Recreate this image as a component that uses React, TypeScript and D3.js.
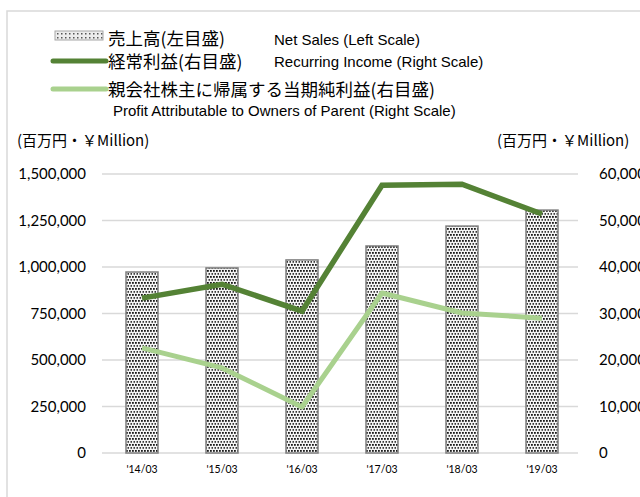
import React from "react";
import * as d3 from "d3";

const periods = ["'14/03", "'15/03", "'16/03", "'17/03", "'18/03", "'19/03"];
const netSales = [973000, 995000, 1038000, 1113000, 1220000, 1306000];
const recurringIncome = [33300, 36300, 30500, 57600, 57800, 51400];
const profitOwners = [22600, 18300, 9900, 34400, 30100, 29000];
const leftTicks = [0, 250000, 500000, 750000, 1000000, 1250000, 1500000];
const rightTicks = [0, 10000, 20000, 30000, 40000, 50000, 60000];

const W = 640,
  H = 497;
const plot = { left: 102, right: 582, top: 174, bottom: 453 };
const DARK = "#548235";
const LIGHT = "#a9d18e";
const JP = "'Noto Sans CJK JP', 'Liberation Sans', sans-serif";
const EN = "'Liberation Sans', Arial, sans-serif";
const NUM = "Lato, 'Open Sans', sans-serif";

export default function App() {
  const x = d3.scaleBand().domain(periods).range([plot.left, plot.right]).paddingInner(0.6).paddingOuter(0.3);
  const yL = d3.scaleLinear().domain([0, 1500000]).range([plot.bottom, plot.top]);
  const yR = d3.scaleLinear().domain([0, 60000]).range([plot.bottom, plot.top]);
  const fmt = d3.format(",");
  const cx = (i: number) => (x(periods[i]) as number) + x.bandwidth() / 2;

  const lineR = d3
    .line<number>()
    .x((_, i) => cx(i))
    .y((d) => yR(d));

  return (
    <div style={{ position: "fixed", left: 0, top: 0 }}>
      <svg width={W} height={H} style={{ display: "block", background: "#fff" }}>
        <defs>
          <pattern id="dots" width="3" height="6" patternUnits="userSpaceOnUse">
            <rect width="3" height="6" fill="#f4f4f4" />
            <rect x="0" y="0" width="1.8" height="1.8" fill="#1a1a1a" />
            <rect x="1.5" y="3" width="1.8" height="1.8" fill="#3a3a3a" />
          </pattern>
          <pattern id="dotsLegend" width="4" height="4" patternUnits="userSpaceOnUse">
            <rect width="4" height="4" fill="#ececec" />
            <rect x="1" y="1" width="1.5" height="1.5" fill="#555" />
          </pattern>
        </defs>

        {/* chart frame */}
        <path d={`M7,${H} V11 H${W}`} fill="none" stroke="#d9d9d9" strokeWidth={1.5} />

        {/* legend */}
        <rect x={55} y={31} width={48} height={9} fill="url(#dotsLegend)" stroke="#a6a6a6" strokeWidth={1} />
        <text x={108} y={45} fontFamily={JP} fontSize={17.5} fill="#000">
          売上高(左目盛)
        </text>
        <text x={274} y={45} fontFamily={EN} fontSize={15} fill="#000">
          Net Sales (Left Scale)
        </text>
        <line x1={53} x2={106} y1={61} y2={61} stroke={DARK} strokeWidth={5} strokeLinecap="round" />
        <text x={108} y={68} fontFamily={JP} fontSize={17.5} fill="#000">
          経常利益(右目盛)
        </text>
        <text x={274} y={67} fontFamily={EN} fontSize={15} fill="#000">
          Recurring Income (Right Scale)
        </text>
        <line x1={53} x2={106} y1={89} y2={89} stroke={LIGHT} strokeWidth={5} strokeLinecap="round" />
        <text x={108} y={96} fontFamily={JP} fontSize={17.5} fill="#000">
          親会社株主に帰属する当期純利益(右目盛)
        </text>
        <text x={113} y={116} fontFamily={EN} fontSize={15} fill="#000">
          Profit Attributable to Owners of Parent (Right Scale)
        </text>

        {/* unit labels */}
        <text x={17} y={146} fontFamily={JP} fontSize={15} fill="#000">
          (百万円・￥Million)
        </text>
        <text x={497} y={146} fontFamily={JP} fontSize={15} fill="#000">
          (百万円・￥Million)
        </text>

        {/* gridlines */}
        {leftTicks.map((t) => (
          <line key={t} x1={plot.left} x2={plot.right - 4} y1={yL(t)} y2={yL(t)} stroke="#d9d9d9" strokeWidth={1.5} />
        ))}

        {/* left axis labels */}
        {leftTicks.map((t) => (
          <text key={t} x={86} y={yL(t)} dy="0.36em" textAnchor="end" fontFamily={NUM} fontSize={15} fill="#000">
            {fmt(t)}
          </text>
        ))}

        {/* right axis labels */}
        {rightTicks.map((t) => (
          <text key={t} x={599} y={yR(t)} dy="0.36em" textAnchor="start" fontFamily={NUM} fontSize={15} fill="#000">
            {fmt(t)}
          </text>
        ))}

        {/* bars */}
        {netSales.map((v, i) => (
          <rect
            key={periods[i]}
            x={x(periods[i])}
            y={yL(v)}
            width={x.bandwidth()}
            height={yL(0) - yL(v)}
            fill="url(#dots)"
            stroke="#7f7f7f"
            strokeWidth={1.5}
          />
        ))}

        {/* lines */}
        <path d={lineR(recurringIncome) ?? ""} fill="none" stroke={DARK} strokeWidth={5.5} strokeLinejoin="miter" />
        <path d={lineR(profitOwners) ?? ""} fill="none" stroke={LIGHT} strokeWidth={5} strokeLinejoin="round" />

        {/* x axis labels */}
        {periods.map((p, i) => (
          <text key={p} x={cx(i)} y={473} textAnchor="middle" fontFamily={NUM} fontSize={10.5} fill="#000">
            {p}
          </text>
        ))}
      </svg>
    </div>
  );
}
